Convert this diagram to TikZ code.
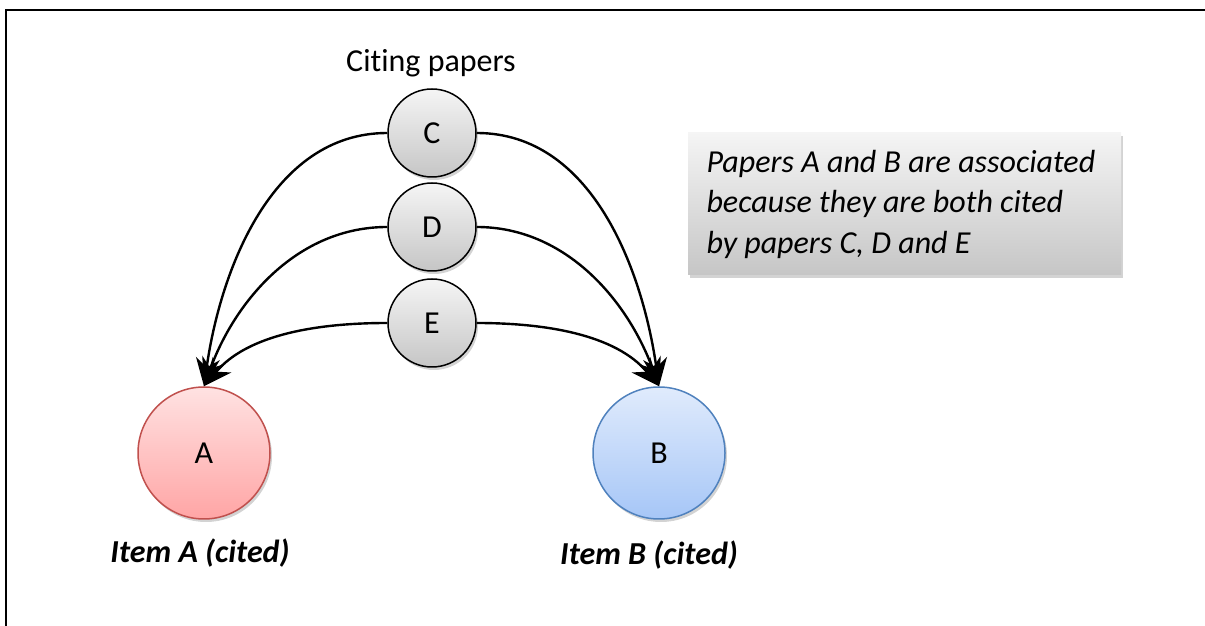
\documentclass[tikz,border=0pt]{standalone}
\usepackage{fontspec}
\setmainfont{Carlito}[Ligatures=NoCommon]
\usetikzlibrary{arrows.meta,shadows}

\definecolor{redline}{HTML}{C0504D}
\definecolor{blueline}{HTML}{4F81BD}
\definecolor{redtop}{HTML}{FFE2E2}
\definecolor{redbot}{HTML}{FFA5A5}
\definecolor{bluetop}{HTML}{E0EBFC}
\definecolor{bluebot}{HTML}{A6C6F7}

\tikzset{
  basefont/.style={font=\fontsize{32}{40}\selectfont},
  softshadow/.style={drop shadow={opacity=0.35,shadow xshift=2pt,shadow yshift=-3pt}},
  citing/.style={circle,draw=black,line width=1.5pt,minimum size=88pt,inner sep=0pt,
    top color=gray!8,bottom color=gray!45,softshadow,basefont},
  itemA/.style={circle,draw=redline,line width=1.5pt,minimum size=132pt,inner sep=0pt,
    top color=redtop,bottom color=redbot,softshadow,basefont},
  itemB/.style={circle,draw=blueline,line width=1.5pt,minimum size=132pt,inner sep=0pt,
    top color=bluetop,bottom color=bluebot,softshadow,basefont},
  cite/.style={line width=2.4pt,-{Stealth[length=28pt,width=24pt,inset=9pt]}},
  note/.style={rectangle,minimum width=433pt,minimum height=142pt,inner sep=0pt,
    top color=gray!8,bottom color=gray!45,softshadow,
    font=\fontsize{32}{40.5}\selectfont\itshape,align=left},
  caption/.style={font=\fontsize{32}{40}\selectfont\bfseries\itshape}
}

\begin{document}
\begin{tikzpicture}[x=1pt,y=1pt]
\useasboundingbox (0,0) rectangle (1205,626);

% outer frame (top and left edges)
\draw[line width=2.5pt] (6,0) -- (6,616) -- (1205,616);

% citing papers
\node[basefont] (title) at (431,563) {Citing papers};
\node[citing] (C) at (432,493) {C};
\node[citing] (D) at (432,399) {D};
\node[citing] (E) at (432,303) {E};

% cited items
\node[itemA] (A) at (204,173) {A};
\node[itemB] (B) at (659,173) {B};
\node[caption] (capA) at (200,73) {Item A (cited)};
\node[caption] (capB) at (649,71) {Item B (cited)};

% citation links
\draw[cite] (C.west) to[out=180,in=82,looseness=0.95] (A.north);
\draw[cite] (D.west) to[out=180,in=70,looseness=0.95] (A.north);
\draw[cite] (E.west) to[out=180,in=50,looseness=0.9] (A.north);
\draw[cite] (C.east) to[out=0,in=98,looseness=0.95] (B.north);
\draw[cite] (D.east) to[out=0,in=110,looseness=0.95] (B.north);
\draw[cite] (E.east) to[out=0,in=130,looseness=0.9] (B.north);

% explanation box
\node[note] (box) at (904.5,422) {%
  \parbox{396pt}{Papers A and B are associated\\because they are both cited\\by papers C, D and E}};
\end{tikzpicture}
\end{document}
